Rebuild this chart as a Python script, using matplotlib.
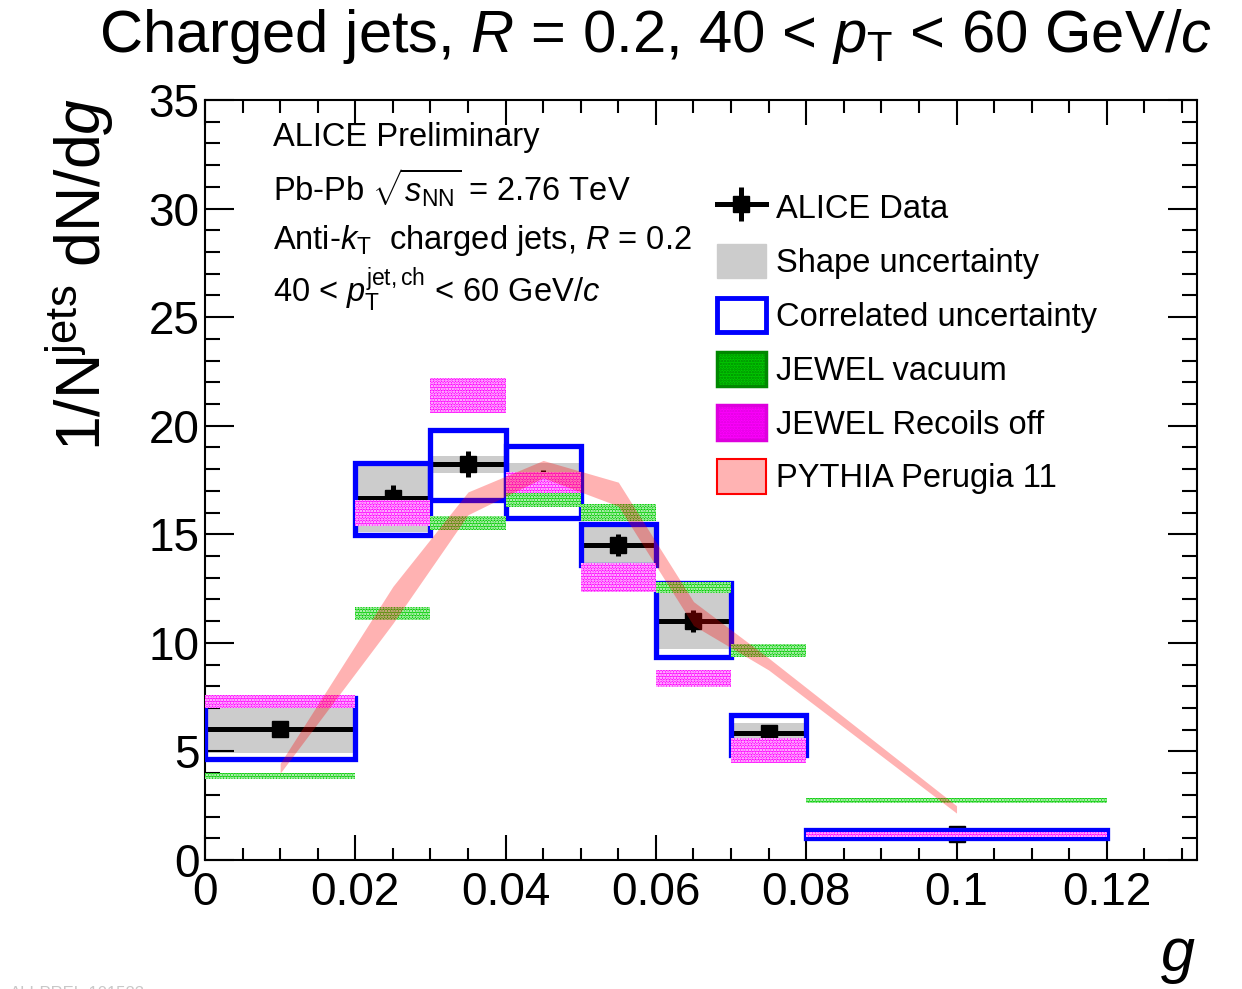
import numpy as np
import matplotlib
matplotlib.use('Agg')
import matplotlib.pyplot as plt
from matplotlib import font_manager
from matplotlib.lines import Line2D
from matplotlib.patches import Patch

# Groomed momentum fraction g, charged jets R = 0.2, 40 < pT < 60 GeV/c
bin_lo = [0.00, 0.02, 0.03, 0.04, 0.05, 0.06, 0.07, 0.08]
bin_hi = [0.02, 0.03, 0.04, 0.05, 0.06, 0.07, 0.08, 0.12]
g_center = [0.01, 0.025, 0.035, 0.045, 0.055, 0.065, 0.075, 0.10]

data_val = [6.03, 16.65, 18.25, 17.45, 14.5, 11.0, 5.85, 1.2]
stat_err = [0.15, 0.6, 0.6, 0.5, 0.5, 0.5, 0.25, 0.15]

shape_lo = [4.93, 15.1, 17.8, 16.6, 13.7, 9.7, 5.35, 1.1]
shape_hi = [7.05, 18.2, 18.6, 18.3, 15.4, 12.3, 6.3, 1.3]
corr_lo = [4.67, 14.98, 16.6, 15.77, 13.58, 9.34, 4.83, 1.0]
corr_hi = [7.45, 18.3, 19.8, 19.05, 15.49, 12.76, 6.7, 1.39]

jewel_vac_lo = [3.72, 11.05, 15.2, 16.25, 15.6, 12.3, 9.36, 2.64]
jewel_vac_hi = [4.0, 11.65, 15.85, 16.9, 16.4, 12.8, 9.97, 2.84]
jewel_rec_lo = [7.0, 15.37, 20.6, 16.9, 12.35, 7.95, 4.45, 1.07]
jewel_rec_hi = [7.6, 16.57, 22.2, 17.85, 13.7, 8.74, 5.6, 1.3]

pythia_g = [0.01, 0.025, 0.035, 0.045, 0.055, 0.065, 0.075, 0.10]
pythia_lo = [4.0, 10.9, 15.9, 17.6, 16.3, 10.8, 8.75, 2.16]
pythia_hi = [4.45, 12.6, 16.95, 18.4, 17.4, 11.9, 9.3, 2.5]

xtick_vals = [0, 0.02, 0.04, 0.06, 0.08, 0.1, 0.12]
xtick_labels = ['0', '0.02', '0.04', '0.06', '0.08', '0.1', '0.12']
ytick_vals = [0, 5, 10, 15, 20, 25, 30, 35]

# fonts (Helvetica look-alike)
plt.rcParams['font.family'] = ['Liberation Sans', 'DejaVu Sans']
plt.rcParams['mathtext.fontset'] = 'custom'
plt.rcParams['mathtext.rm'] = 'Liberation Sans'
plt.rcParams['mathtext.it'] = 'Liberation Sans:italic'
plt.rcParams['mathtext.bf'] = 'Liberation Sans:bold'
plt.rcParams['hatch.linewidth'] = 1.2

names = {f.name for f in font_manager.fontManager.ttflist}
title_font = 'Liberation Sans Narrow' if 'Liberation Sans Narrow' in names else 'Liberation Sans'

lo = np.array(bin_lo)
hi = np.array(bin_hi)
width = hi - lo
xc = np.array(g_center)

fig = plt.figure(figsize=(12.42, 9.89), dpi=100)
ax = fig.add_axes([0.16506, 0.13044, 0.79871, 0.76845])

# shape uncertainty (grey boxes)
ax.bar(lo, np.array(shape_hi) - np.array(shape_lo), width=width, bottom=shape_lo,
       align='edge', color='#cccccc', lw=0, zorder=1)

# data points
ax.errorbar(xc, data_val, xerr=[xc - lo, hi - xc], yerr=stat_err, fmt='s', color='black',
            ms=12, elinewidth=3.6, capsize=0, zorder=2)

# correlated uncertainty (blue open boxes)
ax.bar(lo, np.array(corr_hi) - np.array(corr_lo), width=width, bottom=corr_lo,
       align='edge', facecolor='none', edgecolor='#0000ff', lw=3.8, zorder=3)

# JEWEL vacuum / recoils off
ax.bar(lo, np.array(jewel_vac_hi) - np.array(jewel_vac_lo), width=width, bottom=jewel_vac_lo,
       align='edge', facecolor='#00cc00', edgecolor='white', hatch='......', lw=0, zorder=4)
ax.bar(lo, np.array(jewel_rec_hi) - np.array(jewel_rec_lo), width=width, bottom=jewel_rec_lo,
       align='edge', facecolor='#ff00ff', edgecolor='white', hatch='......', lw=0, zorder=5)

# PYTHIA Perugia 11 band
ax.fill_between(pythia_g, pythia_lo, pythia_hi, color='red', alpha=0.3, lw=0, zorder=6)

ax.set_xlim(0, 0.132)
ax.set_ylim(0, 35)
ax.set_xticks(xtick_vals)
ax.set_xticklabels(xtick_labels)
ax.set_xticks(np.arange(0, 0.1321, 0.005), minor=True)
ax.set_yticks(ytick_vals)
ax.set_yticks(np.arange(0, 35.1, 1), minor=True)
ax.tick_params(which='both', direction='in', top=True, right=True, width=1.5, labelsize=33)
ax.tick_params(axis='x', which='major', length=18, pad=8)
ax.tick_params(axis='x', which='minor', length=9)
ax.tick_params(axis='y', which='major', length=21, pad=4)
ax.tick_params(axis='y', which='minor', length=10.5)
for sp in ax.spines.values():
    sp.set_linewidth(1.5)

# labels
fig.text(655 / 1242, 1 - 36 / 989, r'Charged jets, $R$ = 0.2, 40 < $p_{\rm T}$ < 60 GeV/$c$',
         family=title_font, fontsize=43, ha='center', va='center')
fig.text(80 / 1242, 1 - 98 / 989, r'1/N$^{\rm jets}$ dN/d$g$', fontsize=45, rotation=90,
         ha='center', va='top')
fig.text(1195 / 1242, 1 - 958 / 989, r'$g$', fontsize=44, ha='right', va='center')
fig.text(0.008, 0.003, 'ALI-PREL-101583', fontsize=12, color='#c8c8c8', ha='left', va='top')

info = ['ALICE Preliminary',
        r'Pb-Pb $\sqrt{s_{\rm NN}}$ = 2.76 TeV',
        r'Anti-$k_{\rm T}$  charged jets, $R$ = 0.2',
        r'40 < $p_{\rm T}^{\rm jet,ch}$ < 60 GeV/$c$']
info_y = [137, 188, 240, 290]
for s, yp in zip(info, info_y):
    fig.text(273 / 1242, 1 - yp / 989, s, fontsize=23.5, ha='left', va='center')

# legend
h_data = (Line2D([], [], color='black', marker='s', ms=12, lw=3.6),
          Line2D([], [], color='black', marker='|', ms=24, mew=3.6, lw=0))
h_shape = Patch(facecolor='#cccccc', edgecolor='#cccccc')
h_corr = Patch(facecolor='white', edgecolor='#0000ff', lw=3.5)
h_vac = Patch(facecolor='#00cc00', edgecolor='#008800', hatch='......', lw=2.5)
h_rec = Patch(facecolor='#ff00ff', edgecolor='#dd00dd', hatch='......', lw=2.5)
h_pyt = Patch(facecolor='#ffb3b3', edgecolor='red', lw=1.5)
ax.legend([h_data, h_shape, h_corr, h_vac, h_rec, h_pyt],
          ['ALICE Data', 'Shape uncertainty', 'Correlated uncertainty', 'JEWEL vacuum',
           'JEWEL Recoils off', 'PYTHIA Perugia 11'],
          loc='upper left', bbox_to_anchor=(717 / 1242, 1 - 190 / 989),
          bbox_transform=fig.transFigure, frameon=False, fontsize=23.5, borderpad=0,
          borderaxespad=0, handlelength=1.5, handleheight=1.25, labelspacing=0.57,
          handletextpad=0.3)

fig.savefig('out.png', dpi=100, facecolor='white')
